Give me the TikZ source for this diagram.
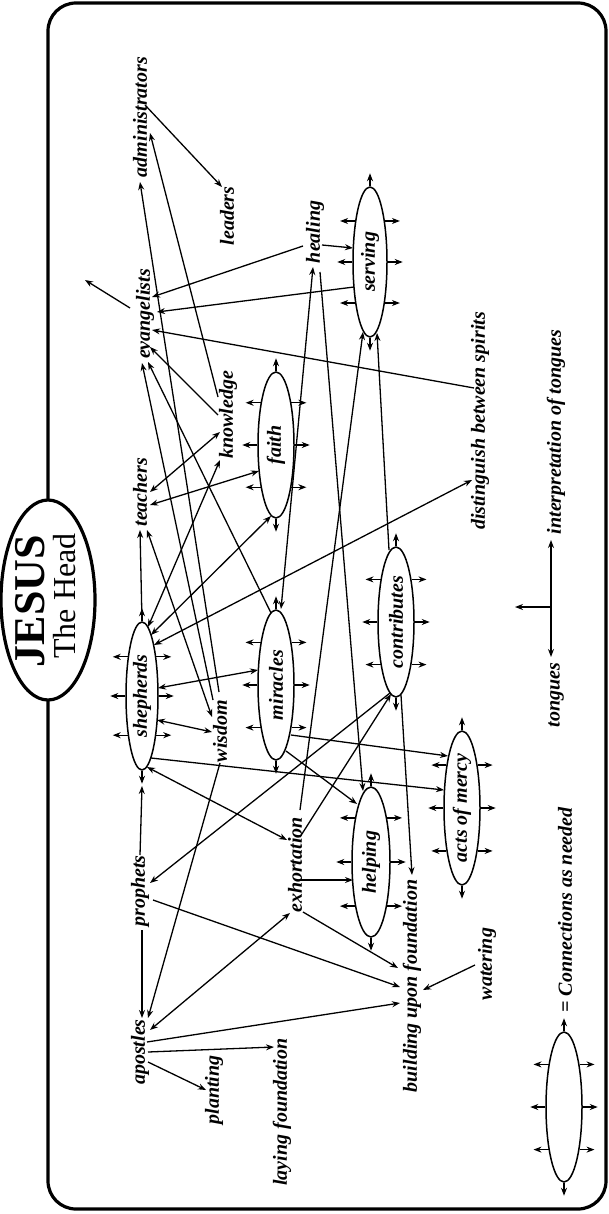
\documentclass[tikz,border=0pt]{standalone}
\usepackage{fontspec}
\setmainfont{Liberation Serif}
\usetikzlibrary{arrows.meta,shapes.geometric}
\tikzset{
  >={Stealth[length=8pt,width=6pt]},
  lbl/.style={rotate=90, inner sep=0pt, font=\fontsize{20}{20}\selectfont\bfseries\itshape},
  gift/.style={ellipse, draw, line width=1.5pt, inner sep=0pt, minimum width=36pt, minimum height=150pt,
    font=\fontsize{20}{20}\selectfont\bfseries\itshape},
  con/.style={line width=1.3pt},
  frame/.style={line width=3.2pt, rounded corners=28pt},
  head/.style={ellipse, draw, line width=3.2pt, fill=white, minimum width=94pt, minimum height=200pt, inner sep=0pt},
}
\newcommand{\ellarrows}[1]{%
  \draw[con,->] (#1.north) -- ++(0,-13);
  \draw[con,->] (#1.south) -- ++(0,13);
  \foreach \a in {70,0,-70} {\draw[con,->] (#1.\a) -- ++(15,0);}
  \foreach \a in {110,180,250} {\draw[con,->] (#1.\a) -- ++(-15,0);}
}
\begin{document}
\begin{tikzpicture}[x=1pt,y=-1pt]
\useasboundingbox (0,0) rectangle (609,1214);
% frame and head
\draw[frame] (48,3) rectangle (606,1209);
\node[head] (jesus) at (48,600) {};
\node[rotate=90, inner sep=0pt, font=\fontsize{44}{44}\selectfont\bfseries] (jesusname) at (30,601) {JESUS};
\node[rotate=90, inner sep=0pt, font=\fontsize{32}{32}\selectfont] (thehead) at (65,596) {The Head};

% text nodes
\node[lbl] (adm) at (140,117) {administrators};
\node[lbl] (lead) at (227,216) {leaders};
\node[lbl] (evan) at (145,314) {evangelists};
\node[lbl] (heal) at (315,232) {healing};
\node[lbl] (know) at (228,415) {knowledge};
\node[lbl] (teach) at (140,492) {teachers};
\node[lbl] (dist) at (480,421) {distinguish between spirits};
\node[lbl] (interp) at (556,432) {interpretation of tongues};
\node[lbl] (wis) at (220,731) {wisdom};
\node[lbl] (tong) at (556,695) {tongues};
\node[lbl] (exh) at (295,865) {exhortation};
\node[lbl] (proph) at (140,891) {prophets};
\node[lbl] (build) at (412,986) {building upon foundation};
\node[lbl] (water) at (487,964) {watering};
\node[lbl] (apost) at (140,1052) {apostles};
\node[lbl] (plant) at (214,1090) {planting};
\node[lbl] (lay) at (282,1112) {laying foundation};
\node[lbl] (legtxt) at (565,910) {= Connections as needed};

% ellipse nodes
\node[gift, minimum width=34pt] (serv) at (370,262) {\rotatebox{90}{serving}};
\node[gift, minimum height=146pt] (faith) at (276,445) {\rotatebox{90}{faith}};
\node[gift, minimum width=32pt, minimum height=148pt] (shep) at (142,696) {\rotatebox{90}{shepherds}};
\node[gift] (mir) at (276,685) {\rotatebox{90}{miracles}};
\node[gift] (contr) at (396,622) {\rotatebox{90}{contributes}};
\node[gift] (mercy) at (462,808) {\rotatebox{90}{acts of mercy}};
\node[gift, minimum width=38pt] (help) at (371,862) {\rotatebox{90}{helping}};
\node[gift] (legend) at (564,1107) {};

\ellarrows{serv}
\ellarrows{faith}
\ellarrows{shep}
\ellarrows{mir}
\ellarrows{contr}
\ellarrows{mercy}
\ellarrows{help}
\ellarrows{legend}

% connectors
\draw[con,->] ([shift={(5,-12)}]adm.center) -- ([shift={(-5,-29)}]lead.center);
\draw[con,->] ([shift={(-1,-39)}]wis.center) -- ([shift={(0,65)}]adm.center);
\draw[con,->] ([shift={(-10,-18)}]know.center) -- ([shift={(10,16)}]adm.center);
\draw[con,->] ([shift={(-12,14)}]heal.center) -- ([shift={(7,-17)}]evan.center);
\draw[con,->] ([shift={(-16,25)}]serv.center) -- ([shift={(12,-2)}]evan.center);
\draw[con,->] ([shift={(-6,-33)}]dist.center) -- ([shift={(7,16)}]evan.center);
\draw[con,->] ([shift={(-10,0)}]know.center) -- ([shift={(5,33)}]evan.center);
\draw[con,->] ([shift={(-7,-31)}]wis.center) -- ([shift={(-3,49)}]evan.center);
\draw[con,->] ([shift={(-5,-72)}]mir.center) -- ([shift={(3,48)}]evan.center);
\draw[con,->] ([shift={(7,13)}]heal.center) -- ([shift={(-17,-14)}]serv.center);
\draw[con,->] (shep.north) -- ([shift={(0,38)}]teach.center);
\draw[con,<->] ([shift={(10,0)}]teach.center) -- ([shift={(-8,17)}]know.center);
\draw[con,<->] ([shift={(10,13)}]teach.center) -- ([shift={(-17,26)}]faith.center);
\draw[con,<->] ([shift={(7,38)}]teach.center) -- ([shift={(-8,-14)}]wis.center);
\draw[con,<->] ([shift={(6,-69)}]shep.center) -- ([shift={(-8,45)}]know.center);
\draw[con,<->] ([shift={(9,-61)}]shep.center) -- ([shift={(-5,71)}]faith.center);
\draw[con,<->] ([shift={(12,-51)}]shep.center) -- ([shift={(-8,59)}]dist.center);
\draw[con,<->] ([shift={(16,-8)}]shep.center) -- ([shift={(-18,-15)}]mir.center);
\draw[con,<->] ([shift={(15,24)}]shep.center) -- ([shift={(-8,1)}]wis.center);
\draw[con,->] ([shift={(9,62)}]shep.center) -- ([shift={(-18,-18)}]mercy.center);
\draw[con,<->] ([shift={(5,71)}]shep.center) -- ([shift={(-8,-25)}]exh.center);
\draw[con,->] ([shift={(0,-36)}]proph.center) -- ([shift={(0,90)}]shep.center);
\draw[con,->] ([shift={(2,39)}]proph.center) -- ([shift={(2,-34)}]apost.center);
\draw[con,->] ([shift={(0,32)}]wis.center) -- ([shift={(8,-34)}]apost.center);
\draw[con,->] ([shift={(-6,71)}]contr.center) -- ([shift={(10,-8)}]proph.center);
\draw[con,->] ([shift={(5,-28)}]exh.center) -- ([shift={(-5,72)}]contr.center);
\draw[con,->] ([shift={(5,-55)}]exh.center) -- ([shift={(-7,70)}]serv.center);
\draw[con,<->] ([shift={(-2,35)}]heal.center) -- ([shift={(5,-76)}]mir.center);
\draw[con,->] ([shift={(5,40)}]heal.center) -- ([shift={(-8,-71)}]help.center);
\draw[con,->] ([shift={(10,66)}]mir.center) -- ([shift={(-14,-58)}]help.center);
\draw[con,->] ([shift={(15,50)}]mir.center) -- ([shift={(-14,-52)}]mercy.center);
\draw[con,->] ([shift={(-7,-72)}]contr.center) -- ([shift={(7,71)}]serv.center);
\draw[con,->] ([shift={(5,73)}]contr.center) -- ([shift={(0,-111)}]build.center);
\draw[con,->] ([shift={(5,15)}]exh.center) -- ([shift={(-18,18)}]help.center);
\draw[con,->] ([shift={(8,47)}]exh.center) -- ([shift={(-14,-18)}]build.center);
\draw[con,->] ([shift={(13,9)}]proph.center) -- ([shift={(-12,1)}]build.center);
\draw[con,->] ([shift={(7,-10)}]apost.center) -- ([shift={(-12,17)}]build.center);
\draw[con,<->] ([shift={(10,-22)}]apost.center) -- ([shift={(-5,48)}]exh.center);
\draw[con,->] ([shift={(8,10)}]apost.center) -- ([shift={(-8,0)}]plant.center);
\draw[con,->] ([shift={(8,0)}]apost.center) -- ([shift={(-8,-65)}]lay.center);
\draw[con,->] ([shift={(-12,1)}]water.center) -- ([shift={(11,4)}]build.center);
\coordinate (evanfree) at (85,280);
\draw[con,->] ([shift={(-15,-6)}]evan.center) -- (evanfree);
\draw[con,<->] ([shift={(-5,-38)}]tong.center) -- ([shift={(-5,108)}]interp.center);
\coordinate (tj) at (551,607);
\coordinate (tjend) at (515,607);
\draw[con,->] (tj) -- (tjend);
\end{tikzpicture}
\end{document}
